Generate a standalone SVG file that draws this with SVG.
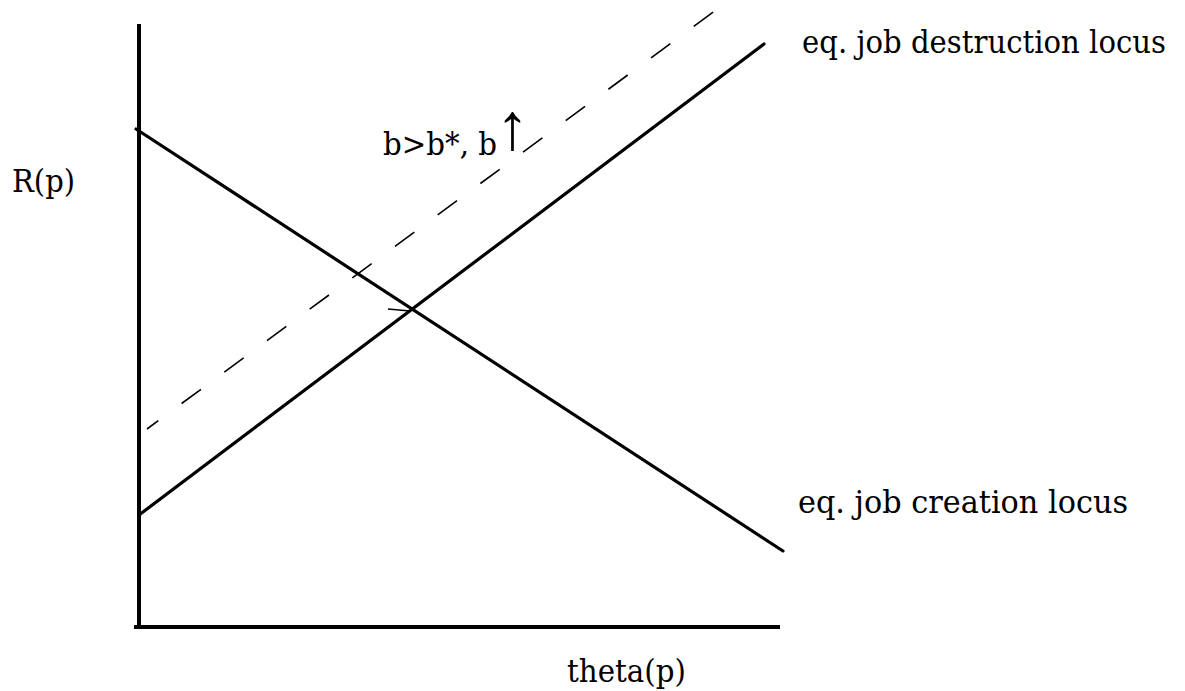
<svg xmlns="http://www.w3.org/2000/svg" width="1185" height="691" viewBox="0 0 1185 691">
<style>
.lbl{font-family:"DejaVu Serif","Liberation Serif",serif;font-size:32px;fill:#000}
.axis{stroke:#000;stroke-width:4;fill:none}
.curve{stroke:#000;stroke-width:3.2;fill:none;stroke-linecap:round}
.dash{stroke:#000;stroke-width:1.6;fill:none;stroke-dasharray:24 29;stroke-dashoffset:10}
</style>
<rect width="1185" height="691" fill="#fff"/>
<g id="connectors">
<line class="axis" x1="139" y1="24" x2="139" y2="629"/>
<line class="axis" x1="134" y1="627" x2="780" y2="627"/>
<line class="curve" x1="136" y1="129" x2="783" y2="551"/>
<line class="curve" x1="139" y1="515" x2="764" y2="44"/>
<line class="dash" x1="147" y1="429" x2="716" y2="10"/>
<line x1="388" y1="309" x2="410" y2="311" stroke="#000" stroke-width="1.6"/>
</g>
<g id="label-destruction"><text class="lbl" x="802" y="53" textLength="364" lengthAdjust="spacingAndGlyphs">eq. job destruction locus</text></g>
<g id="label-creation"><text class="lbl" x="798" y="513" textLength="330" lengthAdjust="spacingAndGlyphs">eq. job creation locus</text></g>
<g id="label-x"><text class="lbl" x="567" y="682" textLength="119" lengthAdjust="spacingAndGlyphs">theta(p)</text></g>
<g id="label-y"><text class="lbl" x="12" y="192" textLength="63" lengthAdjust="spacingAndGlyphs">R(p)</text></g>
<g id="label-b"><text class="lbl" x="383" y="155"><tspan textLength="114" lengthAdjust="spacingAndGlyphs">b&gt;b*, b</tspan><tspan x="496" y="149" style="font-family:'Liberation Sans',sans-serif;font-size:66px">↑</tspan></text></g>
</svg>
